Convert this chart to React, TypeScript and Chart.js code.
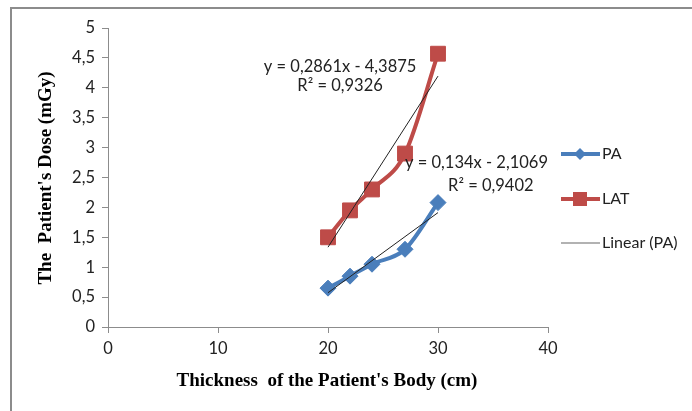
import React, { useEffect, useRef } from "react";
import { Chart, registerables } from "chart.js";
Chart.register(...registerables);

const thickness = [20, 22, 24, 27, 30];
const paDose = [0.65, 0.85, 1.05, 1.3, 2.08];
const latDose = [1.5, 1.95, 2.3, 2.9, 4.57];
const paFit = { slope: 0.134, intercept: -2.1069, r2: "0,9402", eq: "y = 0,134x - 2,1069" };
const latFit = { slope: 0.2861, intercept: -4.3875, r2: "0,9326", eq: "y = 0,2861x - 4,3875" };
const fitRange = [20, 30];
const xTitle = "Thickness  of the Patient's Body (cm)";
const yTitle = "The  Patient's Dose (mGy)";

const BLUE = "#4a7ebb";
const RED = "#be4b48";
const TICKFONT = "Lato";

const fmt = (v: number) => String(v).replace(".", ",");

export default function App() {
  const ref = useRef<HTMLCanvasElement>(null);
  useEffect(() => {
    document.body.style.margin = "0";
    const ctx = ref.current!.getContext("2d")!;
    const fitPts = (f: any) => fitRange.map((x) => ({ x, y: f.slope * x + f.intercept }));
    const deco = {
      id: "deco",
      afterDraw(chart: any) {
        const c = chart.ctx;
        const xs = chart.scales.x;
        const ys = chart.scales.y;
        c.save();
        // frame
        c.strokeStyle = "#8c8c8c";
        c.lineWidth = 2;
        c.beginPath();
        c.moveTo(11, 411);
        c.lineTo(11, 8);
        c.lineTo(692, 8);
        c.stroke();
        // axis titles
        c.fillStyle = "#000";
        c.font = "bold 19px 'Liberation Serif'";
        c.textAlign = "center";
        c.textBaseline = "middle";
        c.fillText(xTitle, 327, 381);
        c.save();
        c.translate(46, 178);
        c.rotate(-Math.PI / 2);
        c.fillText(yTitle, 0, 0);
        c.restore();
        // trendline labels
        c.font = `16.5px ${TICKFONT}`;
        c.fillStyle = "#222";
        c.fillText(latFit.eq, xs.getPixelForValue(21.1), ys.getPixelForValue(4.35));
        c.fillText("R² = " + latFit.r2, xs.getPixelForValue(21.1), ys.getPixelForValue(4.03));
        c.fillText(paFit.eq, xs.getPixelForValue(33.5), ys.getPixelForValue(2.74));
        c.fillText("R² = " + paFit.r2, xs.getPixelForValue(34.8), ys.getPixelForValue(2.36));
        // legend
        c.textAlign = "left";
        c.font = `16px ${TICKFONT}`;
        const items = [
          { label: "PA", y: 154, color: BLUE, marker: "diamond", w: 4 },
          { label: "LAT", y: 199, color: RED, marker: "square", w: 4 },
          { label: "Linear (PA)", y: 243, color: "#666", marker: "none", w: 1.2 },
        ];
        for (const it of items) {
          c.strokeStyle = it.color;
          c.lineWidth = it.w;
          c.beginPath();
          c.moveTo(561, it.y);
          c.lineTo(600, it.y);
          c.stroke();
          c.fillStyle = it.color;
          if (it.marker === "diamond") {
            c.beginPath();
            c.moveTo(580, it.y - 6);
            c.lineTo(586, it.y);
            c.lineTo(580, it.y + 6);
            c.lineTo(574, it.y);
            c.closePath();
            c.fill();
          } else if (it.marker === "square") {
            c.fillRect(573, it.y - 7, 14, 14);
          }
          c.fillStyle = "#222";
          c.fillText(it.label, 602, it.y);
        }
        c.restore();
      },
    };
    const chart = new Chart(ctx, {
      type: "line",
      data: {
        datasets: [
          {
            label: "PA",
            data: thickness.map((x, i) => ({ x, y: paDose[i] })),
            borderColor: BLUE,
            backgroundColor: BLUE,
            borderWidth: 4,
            pointStyle: "rectRot",
            pointRadius: 8,
            pointBorderWidth: 1,
            cubicInterpolationMode: "monotone",
            order: 2,
          },
          {
            label: "LAT",
            data: thickness.map((x, i) => ({ x, y: latDose[i] })),
            borderColor: RED,
            backgroundColor: RED,
            borderWidth: 4,
            pointStyle: "rect",
            pointRadius: 10.5,
            pointBorderWidth: 1,
            cubicInterpolationMode: "monotone",
            order: 2,
          },
          {
            label: "Linear (PA)",
            data: fitPts(paFit),
            borderColor: "#222",
            borderWidth: 1,
            pointRadius: 0,
            order: 1,
          },
          {
            label: "Linear (LAT)",
            data: fitPts(latFit),
            borderColor: "#222",
            borderWidth: 1,
            pointRadius: 0,
            order: 1,
          },
        ],
      },
      options: {
        animation: false,
        responsive: false,
        layout: { padding: { left: 0, top: 28, right: 144, bottom: 0 } },
        plugins: { legend: { display: false }, tooltip: { enabled: false } },
        scales: {
          x: {
            type: "linear",
            min: 0,
            max: 40,
            ticks: { stepSize: 10, color: "#222", font: { family: TICKFONT, size: 16.5 }, padding: 6 },
            grid: { drawOnChartArea: false, color: "#8c8c8c", tickLength: 6 },
            border: { color: "#8c8c8c" },
            afterFit: (s: any) => { s.height = 84; },
          },
          y: {
            min: 0,
            max: 5,
            ticks: { stepSize: 0.5, color: "#222", font: { family: TICKFONT, size: 16.5 }, padding: 7, callback: (v: any) => fmt(v) },
            grid: { drawOnChartArea: false, color: "#8c8c8c", tickLength: 6 },
            border: { color: "#8c8c8c" },
            afterFit: (s: any) => { s.width = 108; },
          },
        },
      },
      plugins: [deco],
    });
    return () => chart.destroy();
  }, []);
  return (
    <div style={{ position: "fixed", left: 0, top: 0, width: 692, height: 411, background: "#fff" }}>
      <canvas ref={ref} width={692} height={411} />
    </div>
  );
}
